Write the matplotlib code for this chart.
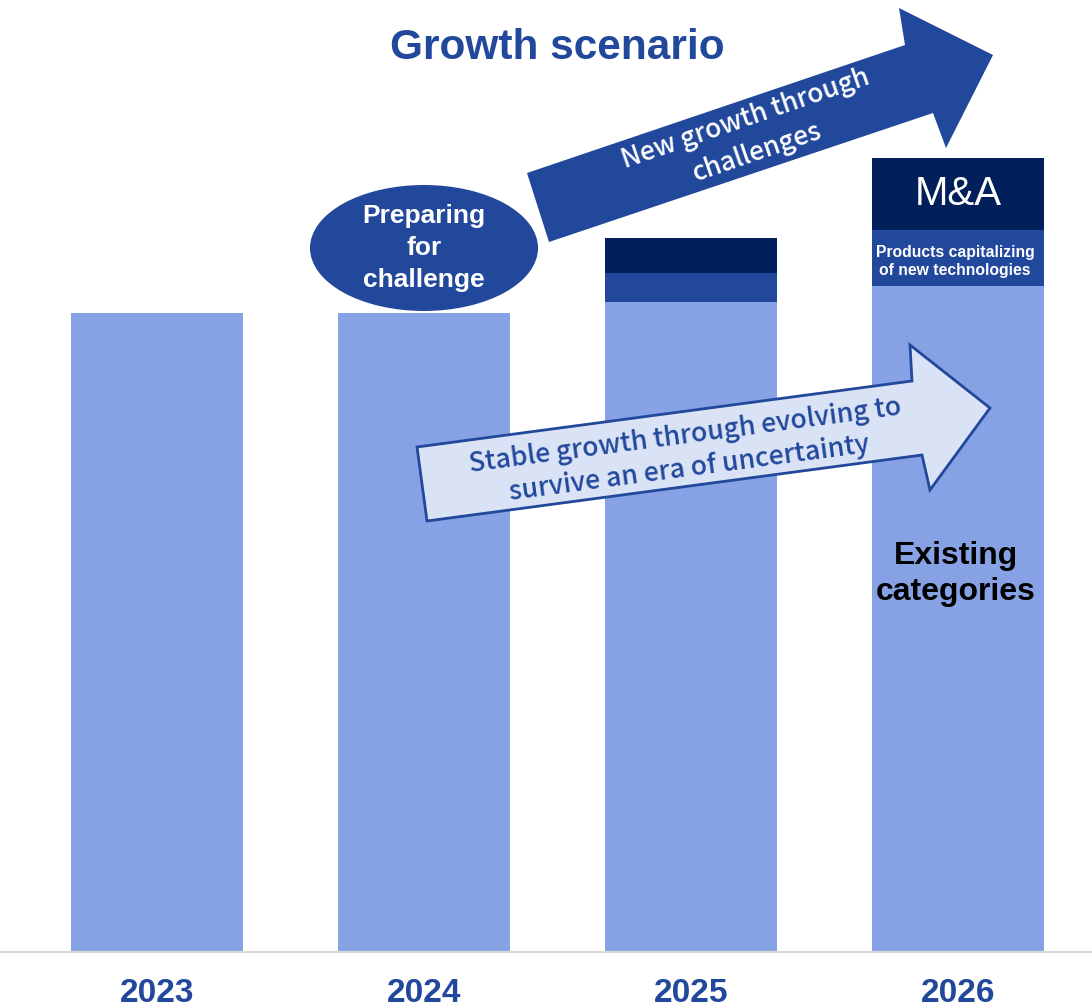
import matplotlib
matplotlib.use("Agg")
import matplotlib.pyplot as plt
from matplotlib.patches import Polygon, Ellipse
import numpy as np

# ---- data ----
years = ["2023", "2024", "2025", "2026"]
existing = [100.0, 100.0, 101.7, 104.2]
new_tech = [0.0, 0.0, 4.5, 8.8]
mna = [0.0, 0.0, 5.5, 11.2]

LIGHT = "#86A2E4"
MID = "#22489C"
DARK = "#001F5B"
PALE = "#DAE3F5"

W, H = 1092, 1008
fig = plt.figure(figsize=(W / 100, H / 100), dpi=100)

# bar axes: baseline at pixel y=952, bar spacing 267px, first centre at 157px
base_frac = (H - 952) / H
ax = fig.add_axes([0, base_frac, 1, 1 - base_frac])
x = np.arange(len(years))
ax.bar(x, existing, width=0.644, color=LIGHT, zorder=2)
ax.bar(x, new_tech, bottom=existing, width=0.644, color=MID, zorder=2)
ax.bar(x, mna, bottom=np.array(existing) + np.array(new_tech), width=0.644,
       color=DARK, zorder=2)
ax.set_xlim(-157 / 267, (W - 157) / 267)
ax.set_ylim(0, 952 / 6.39)
for s in ["top", "left", "right"]:
    ax.spines[s].set_visible(False)
ax.spines["bottom"].set_color("#D9D9D9")
ax.spines["bottom"].set_linewidth(1.6)
ax.set_yticks([])
ax.set_xticks(x)
ax.set_xticklabels(years, fontsize=24, fontweight="bold", color=MID,
                   family=["Liberation Sans Narrow", "Liberation Sans", "DejaVu Sans"])
ax.tick_params(axis="x", length=0, pad=19)
ax.patch.set_alpha(0)

# overlay axes in pixel coords for annotations
ov = fig.add_axes([0, 0, 1, 1], zorder=5)
ov.set_xlim(0, W)
ov.set_ylim(H, 0)
ov.axis("off")
ov.patch.set_alpha(0)

# title
ov.text(557, 48, "Growth scenario", ha="center", va="center", fontsize=30.5,
        fontweight="bold", color=MID, family=["Liberation Sans", "DejaVu Sans"])

# dark arrow
dark_arrow = [(549, 242), (527, 173), (905, 45), (899, 8), (993, 55), (946, 148), (933, 113)]
ov.add_patch(Polygon(dark_arrow, closed=True, facecolor=MID, edgecolor="none"))
ov.text(751, 136, "New growth through\nchallenges", ha="center", va="center",
        rotation=19, rotation_mode="anchor", fontsize=19, color="white",
        fontweight=500, family=["Noto Sans CJK JP", "DejaVu Sans"], linespacing=1.4)

# light arrow
light_arrow = [(427, 521), (417, 447), (912, 381), (910, 345), (990, 408), (930, 490), (922, 455)]
ov.add_patch(Polygon(light_arrow, closed=True, facecolor=PALE, edgecolor=MID,
                     linewidth=2, alpha=1))
ov.text(687, 452, "Stable growth through evolving to\nsurvive an era of uncertainty",
        ha="center", va="center", rotation=7.6, rotation_mode="anchor", fontsize=19.2,
        fontweight=500, color=MID, family=["Noto Sans CJK JP", "DejaVu Sans"],
        linespacing=1.3)

# ellipse
ov.add_patch(Ellipse((424, 248), 228, 126, facecolor=MID, edgecolor="none"))
ov.text(424, 248, "Preparing\nfor\nchallenge", ha="center", va="center", fontsize=19,
        fontweight="bold", color="white", family=["Liberation Sans", "DejaVu Sans"],
        linespacing=1.4)

# segment labels on 2026 bar
ov.text(958, 194, "M&A", ha="center", va="center", fontsize=29, color="white",
        family=["Liberation Sans", "DejaVu Sans"])
ov.text(955, 261, "Products capitalizing\nof new technologies", ha="center", va="center",
        fontsize=11.3, fontweight="bold", color="white",
        family=["Liberation Sans", "DejaVu Sans"], linespacing=1.25)
ov.text(956, 574, "Existing\ncategories", ha="center", va="center", fontsize=23,
        fontweight="bold", color="black", family=["Liberation Sans", "DejaVu Sans"],
        linespacing=1.3)

fig.savefig("out.png", dpi=100)
